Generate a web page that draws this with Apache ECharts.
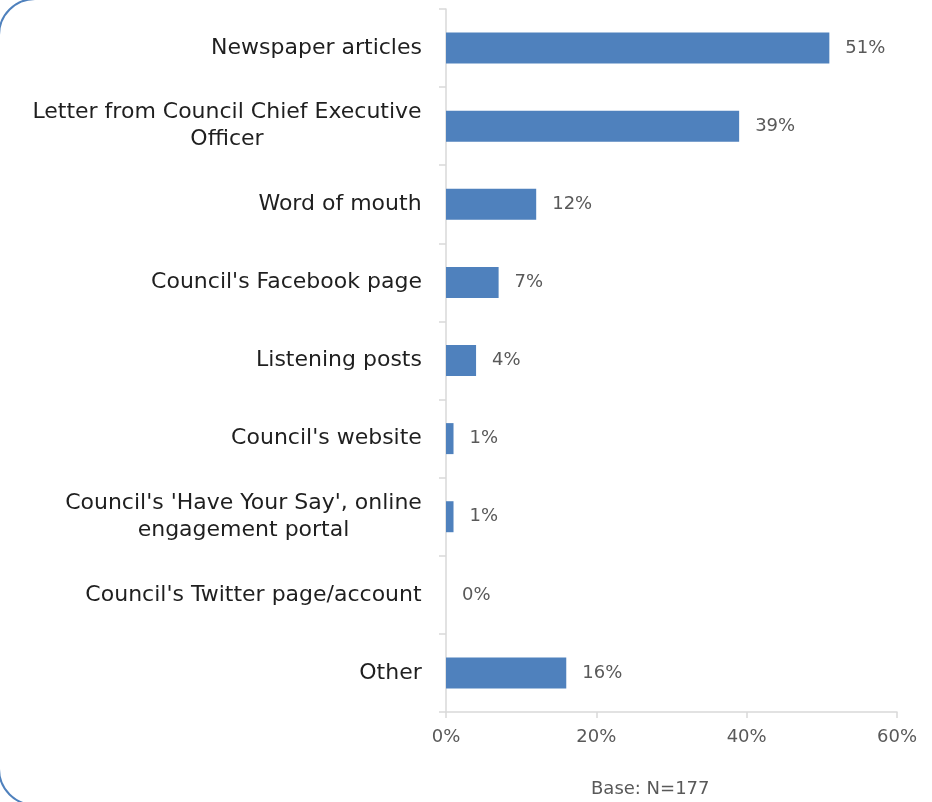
<!DOCTYPE html>
<html>
<head>
<meta charset="utf-8">
<script src="https://cdn.jsdelivr.net/npm/echarts@6/dist/echarts.min.js"></script>
<style>
  html, body { margin: 0; padding: 0; background: #ffffff; }
  #chart { width: 932px; height: 802px; }
</style>
</head>
<body>
<div id="chart"></div>
<script>
// Information sources (top to bottom)
const categories = [
  "Newspaper articles",
  "Letter from Council Chief Executive\nOfficer",
  "Word of mouth",
  "Council's Facebook page",
  "Listening posts",
  "Council's website",
  "Council's 'Have Your Say', online\nengagement portal",
  "Council's Twitter page/account",
  "Other"
];
// Share of respondents (%)
const values = [51, 39, 12, 7, 4, 1, 1, 0, 16];
const xTicks = [0, 20, 40, 60];
const baseNote = "Base: N=177";

const FONT = '"DejaVu Sans", "Noto Sans", sans-serif';
const LABEL_SIZE = 22;

// Multi-line category labels: each line centred within the block, block right-aligned.
const measureCtx = document.createElement('canvas').getContext('2d');
measureCtx.font = LABEL_SIZE + 'px ' + FONT;
const rich = {};
categories.forEach(function (c, i) {
  const lines = c.split('\n');
  const w = Math.ceil(Math.max.apply(null, lines.map(function (l) { return measureCtx.measureText(l).width; })));
  rich['c' + i] = { width: w, align: 'center', fontSize: LABEL_SIZE, fontFamily: FONT, color: '#1f1f1f', lineHeight: 27 };
});

const chart = echarts.init(document.getElementById('chart'), null, { renderer: 'canvas' });

chart.setOption({
  animation: false,
  backgroundColor: '#ffffff',
  grid: { left: 446, right: 35, top: 9, bottom: 90, containLabel: false },
  xAxis: {
    type: 'value',
    min: 0, max: 60, interval: 20,
    axisLine: { show: true, lineStyle: { color: '#d9d9d9', width: 1.5 } },
    axisTick: { show: true, length: 6, lineStyle: { color: '#d9d9d9', width: 1.5 } },
    splitLine: { show: false },
    axisLabel: {
      margin: 16,
      color: '#595959',
      fontFamily: FONT,
      fontSize: 18,
      formatter: function (v) { return xTicks.indexOf(v) >= 0 ? v + '%' : ''; }
    }
  },
  yAxis: {
    type: 'category',
    inverse: true,
    data: categories,
    axisLine: { show: true, lineStyle: { color: '#d9d9d9', width: 1.5 } },
    axisTick: { show: true, length: 7, lineStyle: { color: '#d9d9d9', width: 1.5 } },
    axisLabel: {
      margin: 24,
      align: 'right',
      formatter: function (v, idx) {
        return v.split('\n').map(function (l) { return '{c' + idx + '|' + l + '}'; }).join('\n');
      },
      rich: rich
    }
  },
  series: [{
    type: 'bar',
    data: values,
    barWidth: 31,
    itemStyle: { color: '#4f81bd' },
    label: {
      show: true,
      position: 'right',
      distance: 16,
      color: '#595959',
      fontFamily: FONT,
      fontSize: 18,
      formatter: '{c}%'
    }
  }],
  graphic: [
    {
      type: 'text',
      left: 591, top: 780,
      style: { text: baseNote, fill: '#595959', font: '18px ' + FONT }
    },
    {
      type: 'rect',
      silent: true,
      shape: { x: -1, y: -1, width: 1400, height: 806, r: 36 },
      style: { fill: 'none', stroke: '#4f81bd', lineWidth: 2 }
    }
  ]
});
</script>
</body>
</html>
